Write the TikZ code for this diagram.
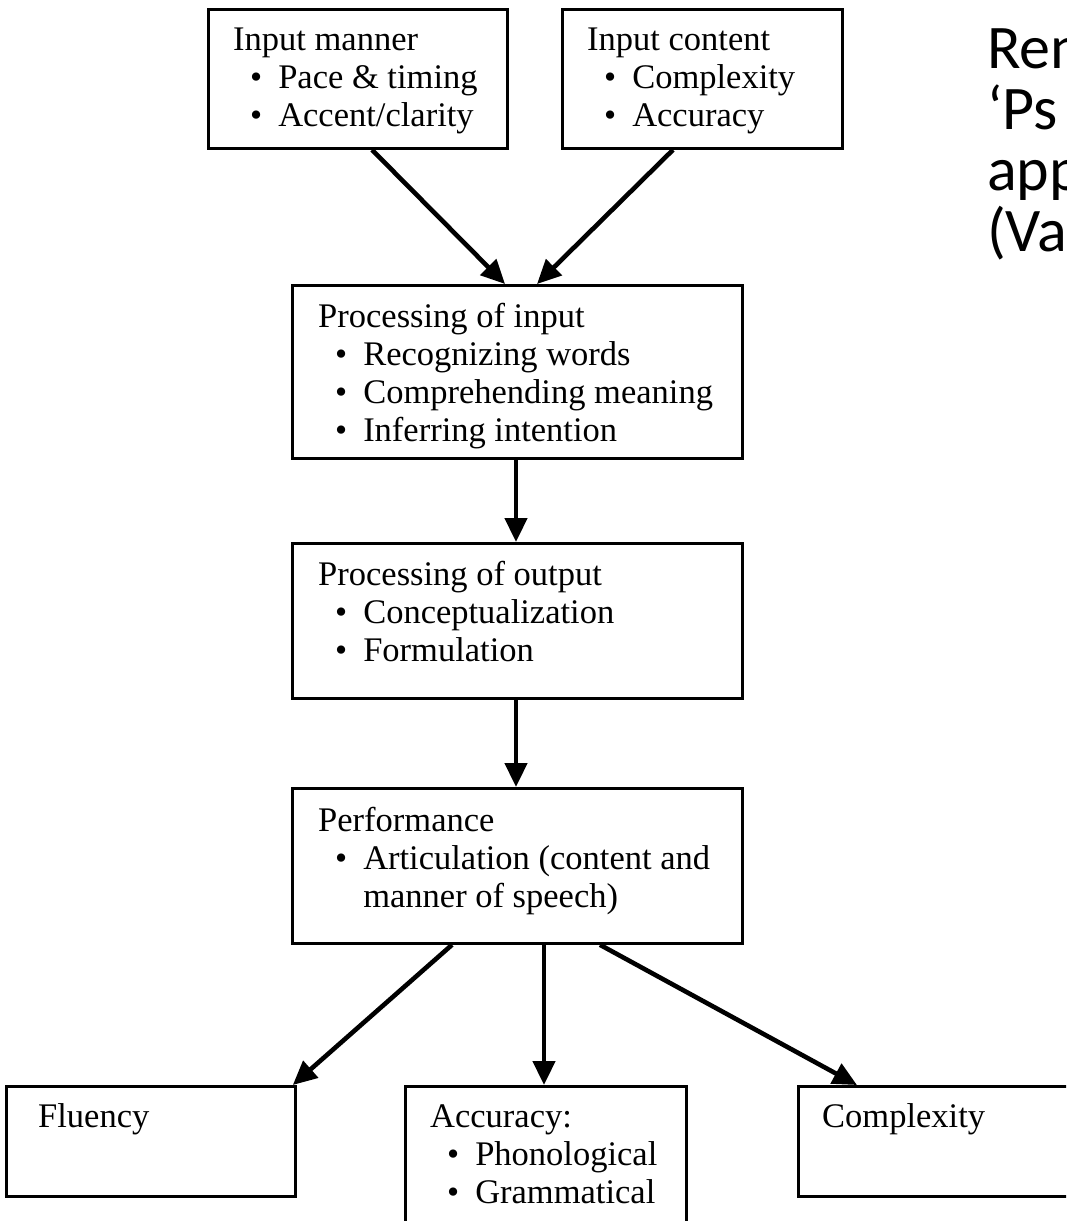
\documentclass[tikz,border=0pt]{standalone}
\usepackage{fontspec}
\setmainfont{Liberation Serif}
\newfontfamily\calib{Carlito}
\usetikzlibrary{arrows.meta,calc}
\newcommand{\bul}{\textbullet}
\begin{document}
\begin{tikzpicture}[x=1pt,y=-1pt,
  box/.style={draw, line width=2.8pt, anchor=north west, inner sep=0pt},
  txt/.style={anchor=base west, inner sep=0pt, font=\fontsize{34.5}{38}\selectfont},
  side/.style={anchor=base west, inner sep=0pt, font=\calib\fontsize{62}{61}\selectfont},
  arr/.style={line width=4.6pt, -{Triangle[length=24pt,width=22pt]}}]
\useasboundingbox (0,0) rectangle (1066,1221);
\fill[white] (0,0) rectangle (1066,1221);
\clip (0,0) rectangle (1066,1221);
% boxes
\node[box, minimum width=299pt, minimum height=139pt] (im) at (207,8) {};
\node[box, minimum width=280pt, minimum height=139pt] (ic) at (561,8) {};
\node[box, minimum width=450pt, minimum height=173pt] (pi) at (291,284) {};
\node[box, minimum width=450pt, minimum height=155pt] (po) at (291,542) {};
\node[box, minimum width=450pt, minimum height=155pt] (pf) at (291,787) {};
\node[box, minimum width=289pt, minimum height=110pt] (fl) at (5,1085) {};
\node[box, minimum width=281pt, minimum height=160pt] (ac) at (404,1085) {};
\node[box, minimum width=300pt, minimum height=110pt] (cx) at (797,1085) {};
% texts
\newcommand{\blist}[1]{\begin{tabular}[t]{@{\hspace{17pt}}l@{\hspace{16pt}}l@{}}#1\end{tabular}}
\node[txt] (tim) at (233,50) {\blist{\multicolumn{2}{@{}l@{}}{Input manner}\\ \bul & Pace \& timing\\ \bul & Accent/clarity}};
\node[txt] (tic) at (587,50) {\blist{\multicolumn{2}{@{}l@{}}{Input content}\\ \bul & Complexity\\ \bul & Accuracy}};
\node[txt] (tpi) at (318,327) {\blist{\multicolumn{2}{@{}l@{}}{Processing of input}\\ \bul & Recognizing words\\ \bul & Comprehending meaning\\ \bul & Inferring intention}};
\node[txt] (tpo) at (318,585) {\blist{\multicolumn{2}{@{}l@{}}{Processing of output}\\ \bul & Conceptualization\\ \bul & Formulation}};
\node[txt] (tpf) at (318,831) {\blist{\multicolumn{2}{@{}l@{}}{Performance}\\ \bul & Articulation (content and\\ & manner of speech)}};
\node[txt] (tfl) at (38,1127) {Fluency};
\node[txt] (tac) at (430,1127) {\blist{\multicolumn{2}{@{}l@{}}{Accuracy:}\\ \bul & Phonological\\ \bul & Grammatical}};
\node[txt] (tcx) at (822,1127) {Complexity};
% side text (cut off at the right edge, as in the reference)
\node[side] (s1) at (987,68) {Ren};
\node[side] (s2) at (987,129) {‘Ps};
\node[side] (s3) at (987,190) {app};
\node[side] (s4) at (987,251) {(Va};
% arrows
\draw[arr] ($(im.south west)+(165,0)$) -- ($(pi.north west)+(214,0)$);
\draw[arr] ($(ic.south west)+(112,0)$) -- ($(pi.north west)+(246,0)$);
\draw[arr] ($(pi.south west)+(225,0)$) -- ($(po.north west)+(225,0)$);
\draw[arr] ($(po.south west)+(225,0)$) -- ($(pf.north west)+(225,0)$);
\draw[arr] ($(pf.south west)+(161,0)$) -- ($(fl.north east)+(-4,0)$);
\draw[arr] ($(pf.south west)+(253,0)$) -- ($(ac.north west)+(140,0)$);
\draw[arr] ($(pf.south west)+(309,0)$) -- ($(cx.north west)+(60,0)$);
\end{tikzpicture}
\end{document}
